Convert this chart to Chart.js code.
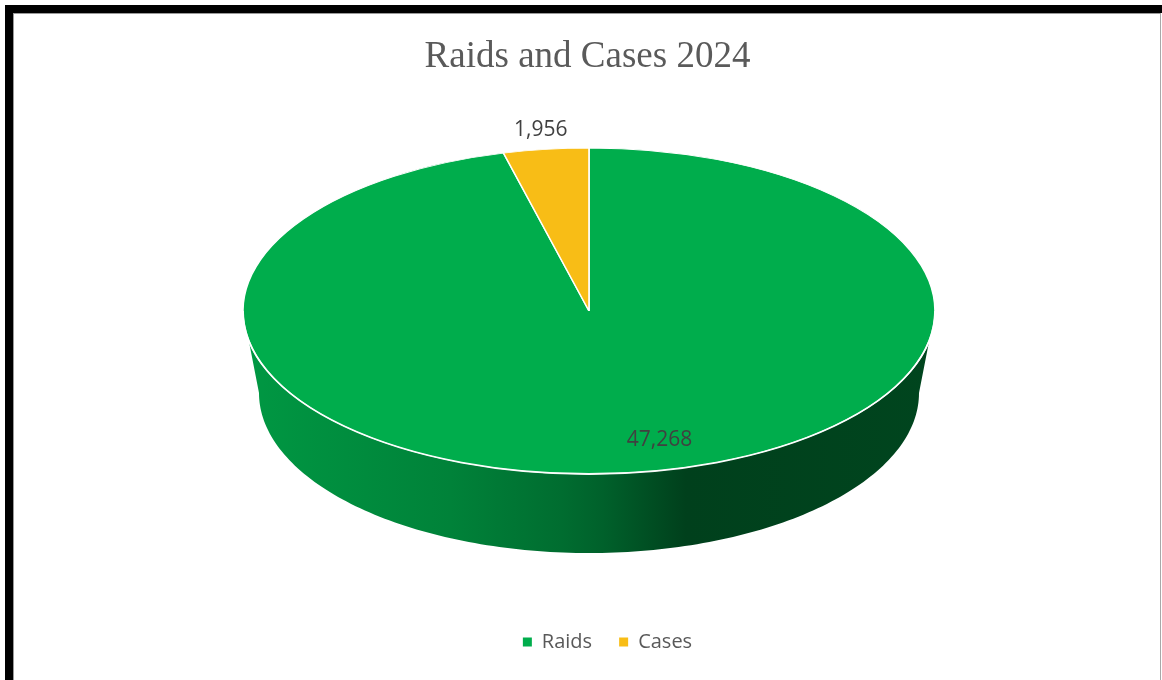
<!DOCTYPE html>
<html>
<head>
<meta charset="utf-8">
<title>Raids and Cases 2024</title>
<script src="https://cdn.jsdelivr.net/npm/chart.js@4.4.1/dist/chart.umd.min.js"></script>
<style>
	html, body { margin: 0; padding: 0; background: #fff; overflow: hidden; }
	.frame { position: absolute; left: 5px; top: 5px; width: 1200px; height: 700px; border-left: 8px solid #000; border-top: 8px solid #000; }
	.inner { position: absolute; left: 13px; top: 13px; width: 1146px; height: 700px; border-left: 1px solid #9a9a9a; border-top: 1px solid #9a9a9a; border-right: 1px solid #a8a8a8; }
	#chart { position: absolute; left: 0; top: 0; }
</style>
</head>
<body>
<div class="frame"></div>
<div class="inner"></div>
<canvas id="chart" width="1162" height="680"></canvas>
<script>
const categories = ['Raids', 'Cases'];
const values = [47268, 1956];
const colors = ['#00ad4c', '#f8bd16'];

function shade(hex, f) {
	const n = parseInt(hex.slice(1), 16);
	const r = Math.round(((n >> 16) & 255) * f);
	const g = Math.round(((n >> 8) & 255) * f);
	const b = Math.round((n & 255) * f);
	return `rgb(${r},${g},${b})`;
}

// Tilted pie: the flat Chart.js pie is squashed into an ellipse and given a side wall
const pie3d = {
	id: 'pie3d',
	afterLayout(chart, args, o) {
		if (chart.legend) {
			chart.legend.left += o.legendShift;
			chart.legend.right += o.legendShift;
		}
	},
	beforeDatasetsDraw(chart, args, o) {
		const ctx = chart.ctx;
		const meta = chart.getDatasetMeta(0);
		const steps = 160;

		meta.data.forEach((arc, i) => {
			const {startAngle, endAngle} = arc.getProps(['startAngle', 'endAngle'], true);
			for (let k = -1; k <= 1; k++) {
				const a1 = Math.max(startAngle, 2 * Math.PI * k);
				const a2 = Math.min(endAngle, 2 * Math.PI * k + Math.PI);
				if (a2 <= a1) continue;

				ctx.beginPath();
				for (let s = 0; s <= steps; s++) {
					const t = a1 + (a2 - a1) * s / steps;
					const x = o.cx + o.rx * Math.cos(t);
					const y = o.cy + o.ry * Math.sin(t);
					s ? ctx.lineTo(x, y) : ctx.moveTo(x, y);
				}
				for (let s = steps; s >= 0; s--) {
					const t = a1 + (a2 - a1) * s / steps;
					ctx.lineTo(o.cx + o.bottomRx * Math.cos(t), o.cy + o.depth + o.bottomRy * Math.sin(t));
				}
				ctx.closePath();

				const grad = ctx.createLinearGradient(o.cx - o.rx, 0, o.cx + o.rx, 0);
				o.sideStops.forEach(([pos, f]) => grad.addColorStop(pos, shade(colors[i], f)));
				ctx.fillStyle = grad;
				ctx.fill();
			}
		});

		// map the round pie onto the top face ellipse
		const first = meta.data[0];
		ctx.save();
		ctx.translate(o.cx, o.cy);
		ctx.scale(o.rx / first.outerRadius, o.ry / first.outerRadius);
		ctx.translate(-first.x, -first.y);
	},
	afterDatasetsDraw(chart, args, o) {
		const ctx = chart.ctx;
		ctx.restore();

		// light rim between top face and side wall
		ctx.beginPath();
		ctx.ellipse(o.cx, o.cy, o.rx, o.ry, 0, 0, Math.PI);
		ctx.strokeStyle = 'rgba(255,255,255,0.95)';
		ctx.lineWidth = 1.8;
		ctx.stroke();

		// value labels
		const meta = chart.getDatasetMeta(0);
		const total = values.reduce((a, b) => a + b, 0);
		ctx.font = o.labelFont;
		ctx.fillStyle = o.labelColor;
		ctx.textAlign = 'center';
		ctx.textBaseline = 'middle';
		meta.data.forEach((arc, i) => {
			const {startAngle, endAngle} = arc.getProps(['startAngle', 'endAngle'], true);
			const mid = (startAngle + endAngle) / 2;
			const outside = values[i] / total < 0.1;
			const k = outside ? o.outsideK : o.insideK;
			let x = o.cx + o.rx * k * Math.cos(mid);
			let y = o.cy + o.ry * k * Math.sin(mid);
			if (!outside) {
				x += o.insideOffset[0];
				y += o.insideOffset[1];
			}
			ctx.fillText(values[i].toLocaleString('en-US'), x, y);
		});
	}
};

new Chart(document.getElementById('chart'), {
	type: 'pie',
	data: {
		labels: categories,
		datasets: [{
			data: values,
			backgroundColor: colors,
			borderColor: '#ffffff',
			borderWidth: 1.2
		}]
	},
	options: {
		responsive: false,
		animation: false,
		events: [],
		layout: {
			padding: {top: 14, left: 13, right: 0, bottom: 18}
		},
		plugins: {
			title: {
				display: true,
				text: 'Raids and Cases 2024',
				color: '#5a5a5a',
				font: {family: "'Liberation Serif', 'Times New Roman', serif", size: 37, weight: 'normal'},
				padding: {top: 21, bottom: 8}
			},
			legend: {
				position: 'bottom',
				labels: {
					boxWidth: 9,
					boxHeight: 9,
					padding: 27,
					color: '#595959',
					font: {family: "'Open Sans', sans-serif", size: 20},
					generateLabels: () => categories.map((text, i) => ({
						text,
						fillStyle: colors[i],
						strokeStyle: colors[i],
						lineWidth: 0,
						fontColor: '#595959',
						hidden: false,
						index: i
					}))
				}
			},
			tooltip: {enabled: false},
			pie3d: {
				cx: 589,
				cy: 311,
				rx: 346,
				ry: 163,
				depth: 82,
				bottomRx: 330,
				bottomRy: 160,
				sideStops: [[0, 0.88], [0.3, 0.75], [0.46, 0.63], [0.52, 0.56], [0.64, 0.37], [1, 0.4]],
				labelFont: "21px 'Open Sans', sans-serif",
				labelColor: '#404040',
				insideK: 0.8,
				outsideK: 1.12,
				insideOffset: [36, 0],
				legendShift: 20
			}
		}
	},
	plugins: [pie3d]
});
</script>
</body>
</html>
